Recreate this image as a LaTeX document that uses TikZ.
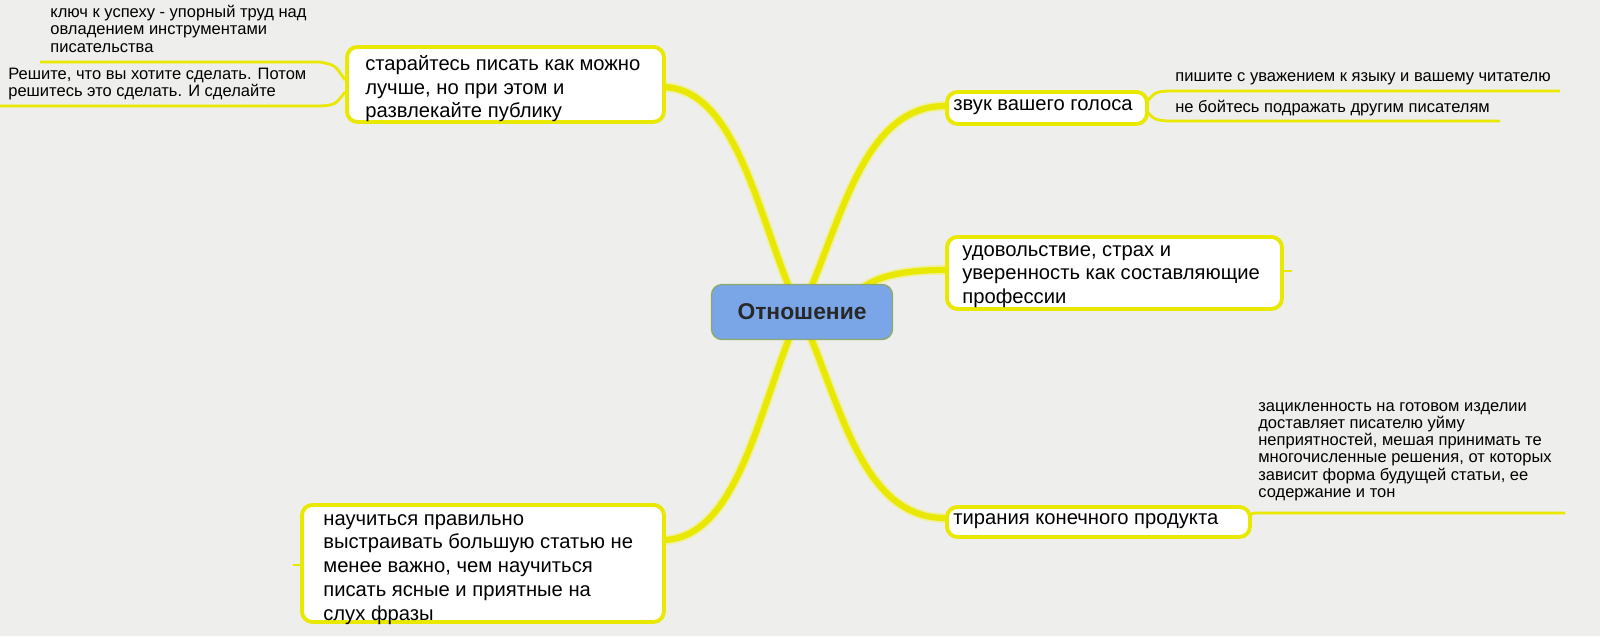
\documentclass[tikz,border=0pt]{standalone}
\usepackage{fontspec}
\setmainfont{Liberation Sans}
\begin{document}
\begin{tikzpicture}[x=0.02cm,y=-0.02cm,
  br/.style={color={rgb,255:red,232;green,232;blue,0}, line width=3.5pt, line cap=round},
  halo/.style={color={rgb,255:red,240;green,240;blue,160}, line width=5.5pt, line cap=round},
  lf/.style={color={rgb,255:red,232;green,232;blue,0}, line width=1.6pt},
  box/.style={draw={rgb,255:red,232;green,232;blue,0}, line width=2.2pt, fill=white, rounded corners=6pt, anchor=north west, inner sep=0pt},
  leaf/.style={align=left, anchor=north west, inner sep=0pt, font=\fontsize{9.4}{9.8}\selectfont},
  bt/.style={align=left, anchor=north west, inner sep=0pt, font=\fontsize{11.5}{13.5}\selectfont}]
\useasboundingbox (0,0) rectangle (1600,636);
\clip (0,0) rectangle (1600,636);
\fill[color={rgb,255:red,238;green,238;blue,236}] (0,0) rectangle (1600,636);
% branches
\foreach \s in {halo,br}{
\draw[\s] (662,87) .. controls (740,87) and (760,230) .. (800,312);
\draw[\s] (800,312) .. controls (840,400) and (860,518) .. (945,518);
\draw[\s] (945,106) .. controls (860,106) and (840,230) .. (800,312);
\draw[\s] (800,312) .. controls (760,400) and (740,540) .. (662,540);
\draw[\s] (860,290) .. controls (880,272) and (920,270) .. (945,270);
}
% leaf lines
\draw[lf] (345,80) .. controls (335,65) .. (320,62) -- (40,62);
\draw[lf] (345,92) .. controls (335,105) .. (320,106) -- (0,106);
\draw[lf] (1145,104) .. controls (1155,92) .. (1168,91) -- (1560,91);
\draw[lf] (1145,110) .. controls (1155,120) .. (1168,121) -- (1500,121);
\draw[lf] (1280,271) -- (1292,271);
\draw[lf] (1248,518) .. controls (1252,513) .. (1258,513) -- (1565,513);
\draw[lf] (300,565) -- (293,565);
% boxes
\node[box, minimum width=317*0.02cm, minimum height=75*0.02cm] (tl) at (345,45) {};
\node[bt] (tlt) at (365,55) {старайтесь писать как можно\\лучше, но при этом и\\развлекайте публику};
\node[box, minimum width=200*0.02cm, minimum height=32*0.02cm] (tr) at (945,90) {};
\node[bt] (trt) at (953,99) {звук вашего голоса};
\node[box, minimum width=335*0.02cm, minimum height=72*0.02cm] (mr) at (945,235) {};
\node[bt] (mrt) at (962,245) {удовольствие, страх и\\уверенность как составляющие\\профессии};
\node[box, minimum width=303*0.02cm, minimum height=30*0.02cm] (brb) at (945,505) {};
\node[bt] (brt) at (953,513) {тирания конечного продукта};
\node[box, minimum width=362*0.02cm, minimum height=117*0.02cm] (bl) at (300,503) {};
\node[bt] (blt) at (323,514) {научиться правильно\\выстраивать большую статью не\\менее важно, чем научиться\\писать ясные и приятные на\\слух фразы};
% center
\node[draw={rgb,255:red,140;green,170;blue,110}, line width=0.8pt, fill={rgb,255:red,122;green,165;blue,230}, rounded corners=6pt, minimum width=181*0.02cm, minimum height=55*0.02cm, font=\bfseries\fontsize{13}{14}\selectfont, text={rgb,255:red,40;green,40;blue,40}] (c) at (802,312) {Отношение};
% leaves
\node[leaf] (l1) at (50,5) {ключ к успеху - упорный труд над\\овладением инструментами\\писательства};
\node[leaf] (l2) at (8,68) {Решите, что вы хотите сделать. Потом\\решитесь это сделать. И сделайте};
\node[leaf] (l3) at (1175,72) {пишите с уважением к языку и вашему читателю};
\node[leaf] (l4) at (1175,100) {не бойтесь подражать другим писателям};
\node[leaf] (l5) at (1258,402) {зацикленность на готовом изделии\\доставляет писателю уйму\\неприятностей, мешая принимать те\\многочисленные решения, от которых\\зависит форма будущей статьи, ее\\содержание и тон};
\end{tikzpicture}
\end{document}
